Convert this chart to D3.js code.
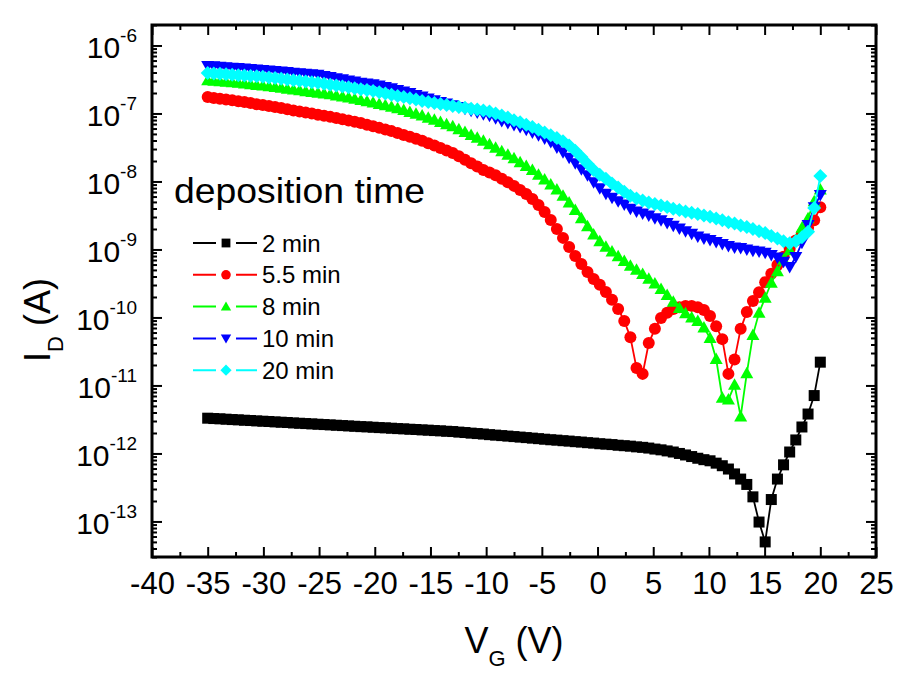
<!DOCTYPE html>
<html><head><meta charset="utf-8">
<script src="https://cdn.jsdelivr.net/npm/d3@7"></script>
<style>
body{margin:0;background:#fff}
text{font-family:Arial,"Liberation Sans",sans-serif;fill:#000}
</style>
</head><body>
<svg id="c" width="923" height="690"></svg>
<script>
// Gate voltage sweep (V)
const vg = [-35,-34.45,-33.9,-33.35,-32.8,-32.25,-31.7,-31.15,-30.6,-30.05,-29.5,-28.95,-28.4,-27.85,-27.3,-26.75,-26.2,-25.65,-25.1,-24.55,
-24,-23.45,-22.9,-22.35,-21.8,-21.25,-20.7,-20.15,-19.6,-19.05,-18.5,-17.95,-17.4,-16.85,-16.3,-15.75,-15.2,-14.65,-14.1,-13.55,
-13,-12.45,-11.9,-11.35,-10.8,-10.25,-9.7,-9.15,-8.6,-8.05,-7.5,-6.95,-6.4,-5.85,-5.3,-4.75,-4.2,-3.65,-3.1,-2.55,
-2,-1.45,-0.9,-0.35,0.2,0.75,1.3,1.85,2.4,2.95,3.5,4.05,4.6,5.15,5.7,6.25,6.8,7.35,7.9,8.45,
9,9.55,10.1,10.65,11.2,11.75,12.3,12.85,13.4,13.95,14.5,15.05,15.6,16.15,16.7,17.25,17.8,18.35,18.9,19.45,20];

// Drain current (A) for each deposition time
const id_2min = [3.30e-12,3.26e-12,3.23e-12,3.19e-12,3.15e-12,3.12e-12,3.08e-12,3.05e-12,3.01e-12,2.98e-12,
2.95e-12,2.91e-12,2.88e-12,2.85e-12,2.81e-12,2.78e-12,2.75e-12,2.72e-12,2.69e-12,2.66e-12,
2.63e-12,2.60e-12,2.57e-12,2.54e-12,2.51e-12,2.48e-12,2.46e-12,2.43e-12,2.40e-12,2.38e-12,
2.35e-12,2.32e-12,2.30e-12,2.27e-12,2.25e-12,2.22e-12,2.20e-12,2.17e-12,2.15e-12,2.12e-12,
2.10e-12,2.06e-12,2.03e-12,1.99e-12,1.96e-12,1.93e-12,1.89e-12,1.86e-12,1.83e-12,1.80e-12,
1.77e-12,1.74e-12,1.71e-12,1.68e-12,1.65e-12,1.62e-12,1.59e-12,1.57e-12,1.54e-12,1.52e-12,
1.49e-12,1.47e-12,1.44e-12,1.42e-12,1.39e-12,1.37e-12,1.35e-12,1.32e-12,1.30e-12,1.28e-12,
1.25e-12,1.23e-12,1.20e-12,1.16e-12,1.13e-12,1.09e-12,1.05e-12,1.00e-12,9.5e-13,9.0e-13,
8.5e-13,8.1e-13,7.8e-13,7.2e-13,6.6e-13,5.9e-13,5.0e-13,4.2e-13,3.5e-13,2.3e-13,
9.8e-14,5.0e-14,2.1e-13,4.2e-13,6.8e-13,1.05e-12,1.58e-12,2.45e-12,3.8e-12,7.1e-12,2.2e-11];

const id_5p5min = [1.74e-7,1.69e-7,1.64e-7,1.60e-7,1.56e-7,1.51e-7,1.47e-7,1.42e-7,1.37e-7,1.33e-7,
1.29e-7,1.24e-7,1.20e-7,1.15e-7,1.11e-7,1.07e-7,1.03e-7,9.95e-8,9.6e-8,9.25e-8,
8.91e-8,8.55e-8,8.20e-8,7.87e-8,7.55e-8,7.24e-8,6.85e-8,6.49e-8,6.14e-8,5.81e-8,
5.50e-8,5.15e-8,4.83e-8,4.53e-8,4.25e-8,3.98e-8,3.66e-8,3.37e-8,3.10e-8,2.86e-8,
2.63e-8,2.34e-8,2.09e-8,1.86e-8,1.66e-8,1.48e-8,1.35e-8,1.23e-8,1.10e-8,9.77e-9,
8.61e-9,7.50e-9,6.55e-9,5.52e-9,4.51e-9,3.56e-9,2.71e-9,2.00e-9,1.48e-9,1.09e-9,
8.0e-10,6.11e-10,4.67e-10,3.67e-10,3.02e-10,2.37e-10,1.82e-10,1.33e-10,8.9e-11,5.1e-11,
1.8e-11,1.48e-11,4.2e-11,6.8e-11,9.8e-11,1.17e-10,1.33e-10,1.41e-10,1.48e-10,1.48e-10,
1.41e-10,1.29e-10,1.05e-10,7.4e-11,4.8e-11,1.48e-11,2.4e-11,6.8e-11,1.2e-10,1.74e-10,
2.34e-10,3.3e-10,4.4e-10,5.9e-10,7.8e-10,1.02e-9,1.35e-9,1.70e-9,2.09e-9,2.69e-9,4.17e-9];

const id_8min = [3.09e-7,3.03e-7,2.98e-7,2.92e-7,2.87e-7,2.82e-7,2.75e-7,2.69e-7,2.63e-7,2.57e-7,
2.51e-7,2.44e-7,2.38e-7,2.31e-7,2.25e-7,2.19e-7,2.13e-7,2.07e-7,2.01e-7,1.96e-7,
1.91e-7,1.84e-7,1.77e-7,1.71e-7,1.64e-7,1.58e-7,1.51e-7,1.45e-7,1.38e-7,1.32e-7,
1.26e-7,1.19e-7,1.12e-7,1.05e-7,9.91e-8,9.33e-8,8.67e-8,8.05e-8,7.48e-8,6.95e-8,
6.46e-8,5.86e-8,5.32e-8,4.83e-8,4.39e-8,3.98e-8,3.53e-8,3.13e-8,2.78e-8,2.47e-8,
2.19e-8,1.92e-8,1.69e-8,1.48e-8,1.26e-8,1.07e-8,9.02e-9,7.59e-9,6.17e-9,4.90e-9,
3.80e-9,2.88e-9,2.19e-9,1.66e-9,1.32e-9,1.10e-9,9.33e-10,7.94e-10,6.76e-10,5.75e-10,
5.01e-10,4.37e-10,3.72e-10,3.16e-10,2.63e-10,2.14e-10,1.70e-10,1.38e-10,1.15e-10,1.0e-10,
8.9e-11,7.1e-11,5.0e-11,2.45e-11,6.6e-12,6.2e-12,1.02e-11,3.5e-12,1.51e-11,5.5e-11,
1.17e-10,1.95e-10,3.24e-10,4.79e-10,7.08e-10,9.77e-10,1.38e-9,2.09e-9,2.88e-9,5.13e-9,7.59e-9];

const id_10min = [5.01e-7,4.94e-7,4.86e-7,4.79e-7,4.72e-7,4.65e-7,4.57e-7,4.51e-7,4.44e-7,4.37e-7,
4.29e-7,4.21e-7,4.13e-7,4.06e-7,3.98e-7,3.91e-7,3.84e-7,3.78e-7,3.72e-7,3.57e-7,
3.44e-7,3.30e-7,3.18e-7,3.05e-7,2.94e-7,2.82e-7,2.75e-7,2.69e-7,2.57e-7,2.45e-7,
2.34e-7,2.22e-7,2.11e-7,2.00e-7,1.87e-7,1.77e-7,1.66e-7,1.57e-7,1.48e-7,1.40e-7,
1.32e-7,1.24e-7,1.17e-7,1.10e-7,1.035e-7,9.77e-8,9.23e-8,8.51e-8,7.76e-8,7.24e-8,
6.76e-8,6.31e-8,5.75e-8,5.25e-8,4.79e-8,4.27e-8,3.80e-8,3.16e-8,2.69e-8,2.24e-8,
1.86e-8,1.51e-8,1.23e-8,9.77e-9,7.94e-9,6.61e-9,5.75e-9,5.13e-9,4.57e-9,3.98e-9,
3.63e-9,3.39e-9,3.16e-9,2.88e-9,2.69e-9,2.45e-9,2.24e-9,2.04e-9,1.86e-9,1.70e-9,
1.55e-9,1.45e-9,1.38e-9,1.29e-9,1.20e-9,1.12e-9,1.07e-9,1.05e-9,1.00e-9,9.55e-10,
9.33e-10,8.91e-10,8.32e-10,7.59e-10,6.61e-10,5.50e-10,7.76e-10,1.26e-9,2.29e-9,4.17e-9,6.31e-9];

const id_20min = [3.94e-7,3.88e-7,3.83e-7,3.78e-7,3.72e-7,3.66e-7,3.61e-7,3.56e-7,3.52e-7,3.47e-7,
3.39e-7,3.31e-7,3.24e-7,3.16e-7,3.09e-7,3.02e-7,2.95e-7,2.88e-7,2.82e-7,2.74e-7,
2.65e-7,2.57e-7,2.49e-7,2.42e-7,2.34e-7,2.28e-7,2.21e-7,2.14e-7,2.05e-7,1.97e-7,
1.89e-7,1.81e-7,1.74e-7,1.67e-7,1.60e-7,1.53e-7,1.48e-7,1.43e-7,1.38e-7,1.33e-7,
1.29e-7,1.25e-7,1.21e-7,1.17e-7,1.14e-7,1.11e-7,1.07e-7,1.00e-7,9.33e-8,8.71e-8,
7.94e-8,7.41e-8,6.84e-8,6.31e-8,5.75e-8,5.25e-8,4.79e-8,4.37e-8,3.89e-8,3.39e-8,
2.82e-8,2.29e-8,1.82e-8,1.48e-8,1.26e-8,1.10e-8,9.33e-9,8.13e-9,7.08e-9,6.17e-9,
5.62e-9,5.25e-9,4.90e-9,4.68e-9,4.42e-9,4.22e-9,3.98e-9,3.80e-9,3.63e-9,3.47e-9,
3.31e-9,3.16e-9,3.02e-9,2.85e-9,2.69e-9,2.51e-9,2.40e-9,2.26e-9,2.14e-9,2.00e-9,
1.86e-9,1.74e-9,1.58e-9,1.45e-9,1.32e-9,1.23e-9,1.32e-9,1.51e-9,1.82e-9,4.07e-9,1.20e-8];

const seriesNames = ["2 min","5.5 min","8 min","10 min","20 min"];
const seriesColors = ["#000000","#ff0000","#00ff00","#0000ff","#00ffff"];
const seriesShapes = ["square","circle","triangle","triangleDown","diamond"];
const seriesData = [id_2min,id_5p5min,id_8min,id_10min,id_20min];

const xTickValues = [-40,-35,-30,-25,-20,-15,-10,-5,0,5,10,15,20,25];
const yTickExponents = [-13,-12,-11,-10,-9,-8,-7,-6];
const legendTitle = "deposition time";
const xTitle = {main:"V", sub:"G", tail:" (V)"};
const yTitle = {main:"I", sub:"D", tail:" (A)"};

const svg = d3.select("#c");
const L=152, R=876, T=25, B=557;
const x = d3.scaleLinear().domain([-40,25]).range([L,R]);
const y = d3.scaleLog().domain([3e-14,2e-6]).range([B,T]);

// minor tick values
const xMinor = d3.range(-37.5,25,5);
const yMinor = [];
for (let e=-14; e<=-6; e++) for (let m=2; m<=9; m++) { const v=m*Math.pow(10,e); if (v>=3e-14 && v<=2e-6) yMinor.push(v); }
const yMajor = yTickExponents.map(e=>Math.pow(10,e));

const axG = svg.append("g");
function ticks(axis, tr, vals, size){
  const g = axG.append("g").attr("transform",tr)
    .call(axis.tickValues(vals).tickSize(size).tickFormat(""));
  g.select(".domain").remove();
  g.selectAll("line").attr("stroke","#000").attr("stroke-width",2);
  return g;
}
ticks(d3.axisBottom(x), `translate(0,${B})`, xTickValues, -10);
ticks(d3.axisBottom(x), `translate(0,${B})`, xMinor, -5);
ticks(d3.axisTop(x), `translate(0,${T})`, xTickValues, -10);
ticks(d3.axisTop(x), `translate(0,${T})`, xMinor, -5);
ticks(d3.axisLeft(y), `translate(${L},0)`, yMajor, -10);
ticks(d3.axisLeft(y), `translate(${L},0)`, yMinor, -5);
ticks(d3.axisRight(y), `translate(${R},0)`, yMajor, -10);
ticks(d3.axisRight(y), `translate(${R},0)`, yMinor, -5);

// x tick labels
const xl = svg.append("g").attr("transform",`translate(0,${B})`)
  .call(d3.axisBottom(x).tickValues(xTickValues).tickSize(0).tickPadding(15).tickFormat(d=>String(d)));
xl.select(".domain").remove();
xl.selectAll("text").attr("font-size",31).attr("font-family","Arial, 'Liberation Sans', sans-serif").attr("fill","#000");

// y tick labels (10^n)
yTickExponents.forEach(e=>{
  const t = svg.append("text").attr("x",137).attr("y",y(Math.pow(10,e))+13)
    .attr("text-anchor","end").attr("font-size",30);
  t.append("tspan").text("10");
  t.append("tspan").attr("dy",-16).attr("font-size",19).text(String(e));
});

// frame
svg.append("rect").attr("x",L).attr("y",T).attr("width",R-L).attr("height",B-T)
  .attr("fill","none").attr("stroke","#000").attr("stroke-width",3);

// symbols
function marker(sel, shape, color, s){
  if (shape==="square") sel.append("rect").attr("x",-5.5*s).attr("y",-5.5*s).attr("width",11*s).attr("height",11*s).attr("fill",color);
  else if (shape==="circle") sel.append("circle").attr("r",6*s).attr("fill",color);
  else if (shape==="triangle") sel.append("path").attr("d",`M0,${-6.5*s}L${6.5*s},${5*s}L${-6.5*s},${5*s}Z`).attr("fill",color);
  else if (shape==="triangleDown") sel.append("path").attr("d",`M0,${6.5*s}L${6.5*s},${-5*s}L${-6.5*s},${-5*s}Z`).attr("fill",color);
  else if (shape==="diamond") sel.append("path").attr("d",`M0,${-7*s}L${7*s},0L0,${7*s}L${-7*s},0Z`).attr("fill",color);
}

const plot = svg.append("g");
const line = d3.line().x(d=>x(d[0])).y(d=>y(d[1]));
seriesData.forEach((vals,si)=>{
  const pts = vg.map((v,i)=>[v,vals[i]]);
  plot.append("path").datum(pts).attr("d",line).attr("fill","none")
    .attr("stroke",seriesColors[si]).attr("stroke-width",1.8);
  const g = plot.append("g");
  pts.forEach(p=>{
    const m = g.append("g").attr("transform",`translate(${x(p[0])},${y(p[1])})`);
    marker(m, seriesShapes[si], seriesColors[si], 1);
  });
});

// legend
svg.append("text").attr("x",174).attr("y",203).attr("font-size",35)
  .attr("textLength",251).attr("lengthAdjust","spacingAndGlyphs").text(legendTitle);
seriesNames.forEach((n,i)=>{
  const yy = 243 + i*31.8;
  svg.append("line").attr("x1",193).attr("x2",257).attr("y1",yy).attr("y2",yy)
    .attr("stroke",seriesColors[i]).attr("stroke-width",2);
  svg.append("rect").attr("x",216).attr("y",yy-3).attr("width",20).attr("height",6).attr("fill","#fff");
  const mg = svg.append("g").attr("transform",`translate(226,${yy})`);
  marker(mg, seriesShapes[i], seriesColors[i], 0.8);
  svg.append("text").attr("x",262).attr("y",yy+8.5).attr("font-size",24).text(n);
});

// axis titles
const xt = svg.append("text").attr("x",(L+R)/2).attr("y",653).attr("text-anchor","middle").attr("font-size",36);
xt.append("tspan").text(xTitle.main);
xt.append("tspan").attr("dy",13).attr("font-size",22).text(xTitle.sub);
xt.append("tspan").attr("dy",-13).text(xTitle.tail);

const yt = svg.append("text").attr("transform","translate(50,320) rotate(-90)").attr("text-anchor","middle").attr("font-size",36);
yt.append("tspan").text(yTitle.main);
yt.append("tspan").attr("dy",13).attr("font-size",22).text(yTitle.sub);
yt.append("tspan").attr("dy",-13).text(yTitle.tail);
</script>
</body></html>
